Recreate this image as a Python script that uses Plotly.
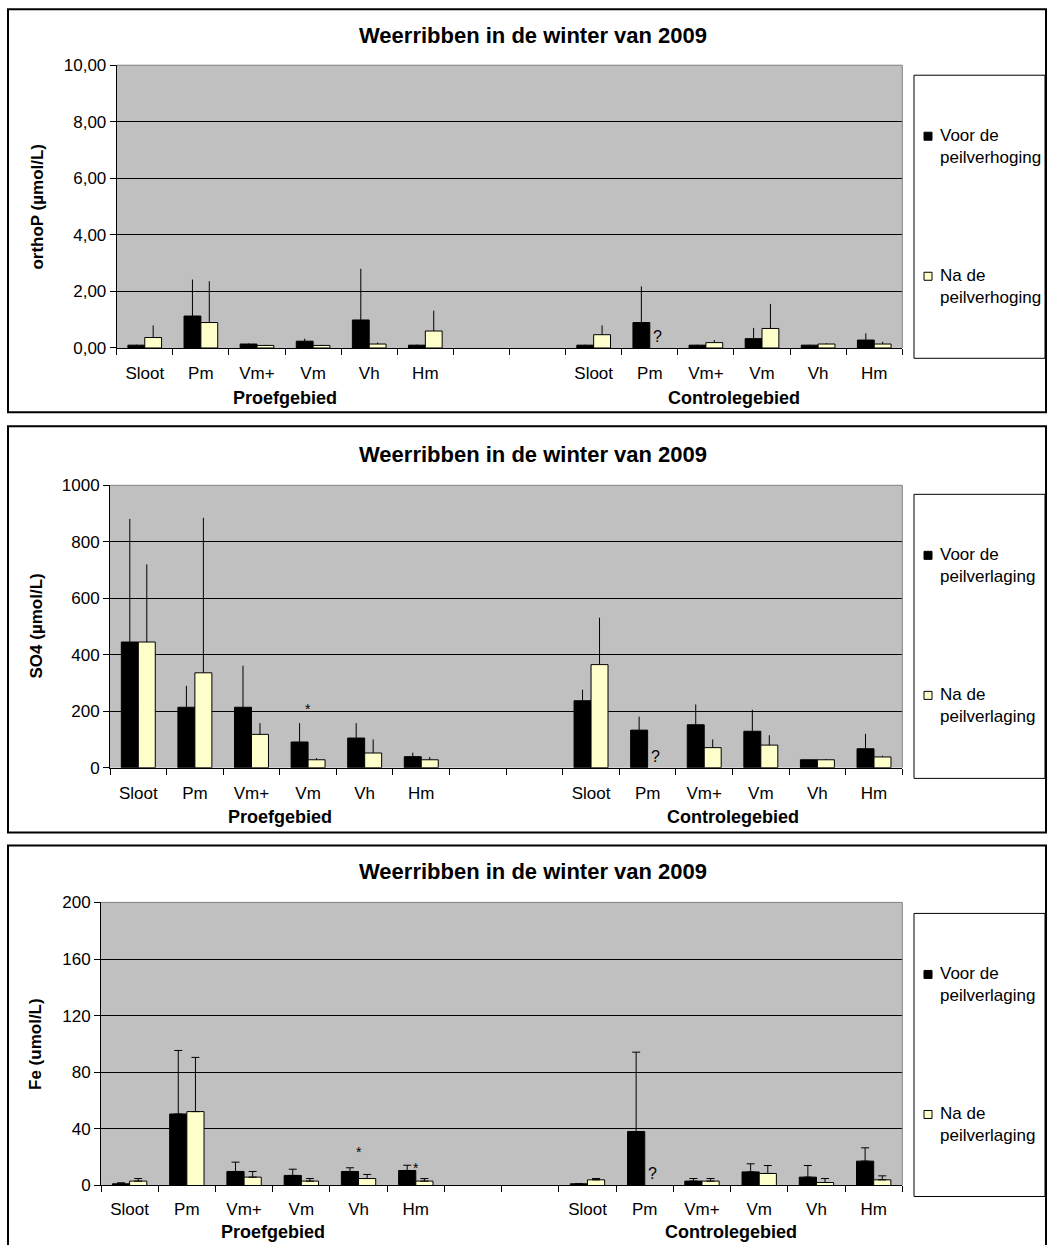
import plotly.graph_objects as go

W, H = 1048, 1245
FONT = "Liberation Sans, Arial, sans-serif"

# ---------------- data ----------------
proef_labels = ["Sloot", "Pm", "Vm+", "Vm", "Vh", "Hm"]
gap_labels = ["", ""]
control_labels = ["Sloot", "Pm", "Vm+", "Vm", "Vh", "Hm"]
x_labels = proef_labels + gap_labels + control_labels
group_names = ["Proefgebied", "Controlegebied"]

chart_title = "Weerribben in de winter van 2009"

# orthoP (umol/L)
orthop_voor = [0.10, 1.13, 0.14, 0.24, 0.99, 0.10, None, None, 0.10, 0.90, 0.10, 0.33, 0.10, 0.28]
orthop_voor_sd = [0.02, 1.29, 0.02, 0.09, 1.81, 0.02, 0, 0, 0.02, 1.28, 0.02, 0.38, 0.02, 0.24]
orthop_na = [0.37, 0.90, 0.09, 0.09, 0.14, 0.60, None, None, 0.47, None, 0.19, 0.69, 0.14, 0.14]
orthop_na_sd = [0.43, 1.46, 0.02, 0.02, 0.05, 0.72, 0, 0, 0.33, 0, 0.09, 0.87, 0.03, 0.08]
orthop_ticks = [0, 2, 4, 6, 8, 10]
orthop_ticktext = ["0,00", "2,00", "4,00", "6,00", "8,00", "10,00"]

# SO4 (umol/L)
so4_voor = [445, 214, 214, 91, 105, 39, None, None, 237, 133, 152, 129, 28, 67]
so4_voor_sd = [436, 76, 147, 67, 53, 14, 0, 0, 39, 48, 72, 76, 0, 53]
so4_na = [445, 336, 118, 28, 52, 28, None, None, 365, None, 71, 80, 28, 38]
so4_na_sd = [275, 549, 40, 6, 48, 10, 0, 0, 166, 0, 29, 35, 3, 4]
so4_ticks = [0, 200, 400, 600, 800, 1000]
so4_ticktext = ["0", "200", "400", "600", "800", "1000"]

# Fe (umol/L)
fe_voor = [1.2, 50.5, 9.9, 7.1, 9.9, 10.6, None, None, 1.2, 38.1, 3.1, 9.6, 5.9, 17.2]
fe_voor_sd = [0.7, 44.9, 6.6, 4.4, 2.6, 3.7, 0, 0, 0, 56.1, 1.8, 5.7, 8.2, 9.4]
fe_na = [3.1, 52.2, 5.9, 3.1, 4.9, 3.1, None, None, 4.0, None, 3.1, 8.5, 2.1, 4.0]
fe_na_sd = [1.8, 38.3, 4.0, 1.8, 2.9, 1.8, 0, 0, 0.9, 0, 1.8, 5.6, 2.8, 2.8]
fe_ticks = [0, 40, 80, 120, 160, 200]
fe_ticktext = ["0", "40", "80", "120", "160", "200"]

# significance / missing markers: (category index, value, text)
orthop_marks = [(9, 0.0, "?")]
so4_marks = [(3, 209, "*"), (9, 0.0, "?")]
fe_marks = [(4, 24, "*"), (5, 12.5, "*"), (9, 0.0, "?")]

# ---------------- layout geometry (target pixels on the photographed page) ----------------
panels = [
    dict(ytitle="orthoP (µmol/L)", voor=orthop_voor, voor_sd=orthop_voor_sd, na=orthop_na, na_sd=orthop_na_sd,
         ticks=orthop_ticks, ticktext=orthop_ticktext, marks=orthop_marks,
         leg=["Voor de<br>peilverhoging", "Na de<br>peilverhoging"], cap=0,
         plot=(116.7, 65, 902.3, 347.7), box=(8, 9, 1046, 412), legbox=(914, 75, 1045, 358),
         title_y=35, ytitle_x=38, group_y=398, standoff=10),
    dict(ytitle="SO4 (µmol/L)", voor=so4_voor, voor_sd=so4_voor_sd, na=so4_na, na_sd=so4_na_sd,
         ticks=so4_ticks, ticktext=so4_ticktext, marks=so4_marks,
         leg=["Voor de<br>peilverlaging", "Na de<br>peilverlaging"], cap=0,
         plot=(110, 485, 902.3, 767.3), box=(8, 426, 1046, 832), legbox=(914, 494, 1045, 778),
         title_y=454, ytitle_x=36, group_y=817, standoff=10),
    dict(ytitle="Fe (umol/L)", voor=fe_voor, voor_sd=fe_voor_sd, na=fe_na, na_sd=fe_na_sd,
         ticks=fe_ticks, ticktext=fe_ticktext, marks=fe_marks,
         leg=["Voor de<br>peilverlaging", "Na de<br>peilverlaging"], cap=4,
         plot=(101, 902, 902.3, 1185), box=(8, 845, 1046, 1262), legbox=(914, 913, 1045, 1196),
         title_y=871, ytitle_x=36, group_y=1232, standoff=8),
]


def px(x):
    return x / W


def py(y):
    # the page is shown with a small top offset and slight vertical squeeze; compensate
    fy = (y - 8.8) / 0.9845
    return 1 - fy / H


fig = go.Figure()
shapes = []
annotations = []
xpos = list(range(len(x_labels)))
layout_axes = {}

for i, p in enumerate(panels):
    n = "" if i == 0 else str(i + 1)
    xa, ya = "x" + n, "y" + n
    x0, y0, x1, y1 = p["plot"]
    err_common = dict(type="data", symmetric=False, thickness=1, width=p["cap"], color="black")
    fig.add_trace(go.Bar(x=xpos, y=p["voor"], xaxis=xa, yaxis=ya, showlegend=False,
                         marker=dict(color="#000000", line=dict(color="black", width=1)),
                         error_y=dict(array=p["voor_sd"], arrayminus=[0] * len(xpos), **err_common)))
    fig.add_trace(go.Bar(x=xpos, y=p["na"], xaxis=xa, yaxis=ya, showlegend=False,
                         marker=dict(color="#FFFFCC", line=dict(color="black", width=1)),
                         error_y=dict(array=p["na_sd"], arrayminus=[0] * len(xpos), **err_common)))

    layout_axes["xaxis" + n] = dict(
        domain=[px(x0), px(x1)], anchor=ya, type="linear", range=[-0.5, len(xpos) - 0.5],
        tickmode="array", tickvals=xpos, ticktext=x_labels, ticks="", showgrid=False, zeroline=False,
        showline=True, linecolor="black", linewidth=1, ticklabelstandoff=p["standoff"],
        tickfont=dict(family=FONT, size=17, color="black"),
        minor=dict(tickmode="array", tickvals=[k - 0.5 for k in range(len(xpos) + 1)], ticks="outside",
                   ticklen=6, tickcolor="black", tickwidth=1, showgrid=False),
        fixedrange=True)
    layout_axes["yaxis" + n] = dict(
        domain=[py(y1), py(y0)], anchor=xa, range=[0, p["ticks"][-1]], tickmode="array",
        tickvals=p["ticks"], ticktext=p["ticktext"], ticks="outside", ticklen=6, tickcolor="black",
        showgrid=True, gridcolor="black", gridwidth=1, zeroline=False, showline=True,
        linecolor="black", linewidth=1, tickfont=dict(family=FONT, size=17, color="black"),
        fixedrange=True)

    # plot-area top and right edges (gray)
    shapes.append(dict(type="line", xref="paper", yref="paper", x0=px(x0), x1=px(x1), y0=py(y0), y1=py(y0),
                       line=dict(color="#808080", width=1)))
    shapes.append(dict(type="line", xref="paper", yref="paper", x0=px(x1), x1=px(x1), y0=py(y0), y1=py(y1),
                       line=dict(color="#808080", width=1)))
    # outer chart border
    bx0, by0, bx1, by1 = p["box"]
    shapes.append(dict(type="rect", xref="paper", yref="paper", x0=px(bx0), x1=px(bx1), y0=py(by1), y1=py(by0),
                       line=dict(color="black", width=2), layer="above"))
    # legend box
    lx0, ly0, lx1, ly1 = p["legbox"]
    shapes.append(dict(type="rect", xref="paper", yref="paper", x0=px(lx0), x1=px(lx1), y0=py(ly1), y1=py(ly0),
                       line=dict(color="black", width=1)))
    for k, (col, off) in enumerate([("#000000", 61), ("#FFFFCC", 201)]):
        cy = ly0 + off
        shapes.append(dict(type="rect", xref="paper", yref="paper", x0=px(924), x1=px(932),
                           y0=py(cy + 4), y1=py(cy - 4), fillcolor=col, line=dict(color="black", width=1)))
        annotations.append(dict(xref="paper", yref="paper", x=px(938), y=py(cy + 10), text=p["leg"][k],
                                showarrow=False, xanchor="left", yanchor="middle", align="left",
                                font=dict(family=FONT, size=17, color="black")))
    # title
    annotations.append(dict(xref="paper", yref="paper", x=px(533), y=py(p["title_y"]), text="<b>%s</b>" % chart_title,
                            showarrow=False, xanchor="center", yanchor="middle",
                            font=dict(family=FONT, size=22, color="black")))
    # y title
    annotations.append(dict(xref="paper", yref="paper", x=px(p["ytitle_x"]), y=py((y0 + y1) / 2),
                            text="<b>%s</b>" % p["ytitle"], textangle=-90, showarrow=False,
                            xanchor="center", yanchor="middle", font=dict(family=FONT, size=17, color="black")))
    # group labels
    for g, gx in zip(group_names, [2.5, 10.5]):
        annotations.append(dict(xref=xa, yref="paper", x=gx, y=py(p["group_y"]), text="<b>%s</b>" % g,
                                showarrow=False, xanchor="center", yanchor="middle",
                                font=dict(family=FONT, size=18, color="black")))
    # markers
    for (ci, val, txt) in p["marks"]:
        if txt == "?":
            annotations.append(dict(xref=xa, yref=ya, x=ci, y=val, text=txt, showarrow=False, xshift=8,
                                    yanchor="bottom", yshift=1, font=dict(family=FONT, size=16, color="black")))
        else:
            annotations.append(dict(xref=xa, yref=ya, x=ci, y=val, text=txt, showarrow=False,
                                    yanchor="middle", font=dict(family=FONT, size=14, color="black")))

fig.update_layout(
    width=W, height=H, margin=dict(l=0, r=0, t=0, b=0),
    paper_bgcolor="white", plot_bgcolor="#C0C0C0",
    barmode="group", bargap=0.4, bargroupgap=0,
    shapes=shapes, annotations=annotations, showlegend=False,
    font=dict(family=FONT, color="black"),
    **layout_axes,
)

fig.write_html("out.html")
